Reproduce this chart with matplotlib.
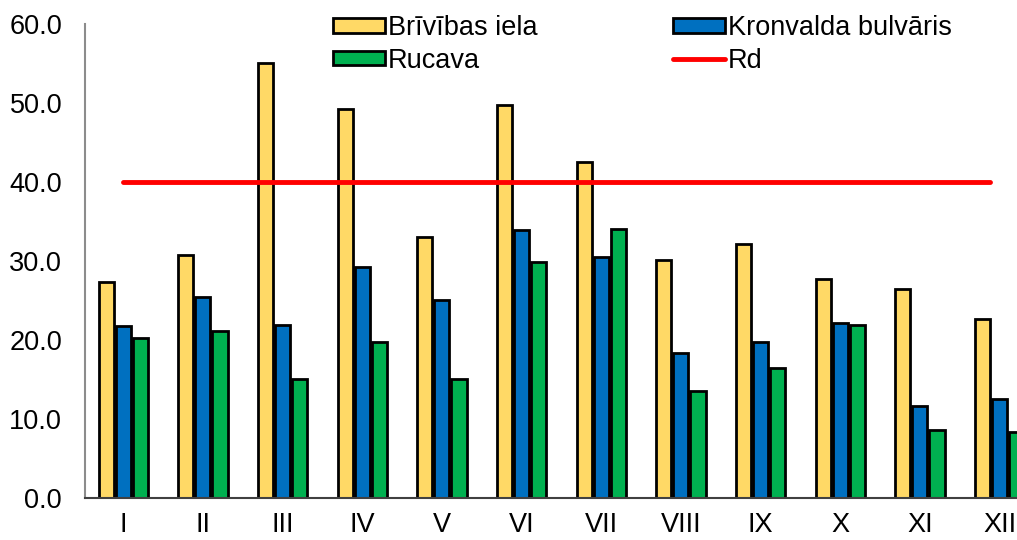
import matplotlib.pyplot as plt
import numpy as np

plt.rcParams['font.family'] = ['Liberation Sans', 'DejaVu Sans']

months = ['I', 'II', 'III', 'IV', 'V', 'VI', 'VII', 'VIII', 'IX', 'X', 'XI', 'XII']
brivibas = [27.4, 30.8, 55.1, 49.3, 33.0, 49.8, 42.5, 30.1, 32.2, 27.7, 26.4, 22.7]
kronvalda = [21.8, 25.5, 21.9, 29.2, 25.1, 33.9, 30.5, 18.4, 19.8, 22.1, 11.7, 12.5]
rucava = [20.2, 21.1, 15.0, 19.8, 15.1, 29.9, 34.0, 13.5, 16.5, 21.9, 8.6, 8.3]
rd = 40.0

fig = plt.figure(figsize=(10.17, 5.4), dpi=100)
ax = fig.add_axes([0.0836, 0.0778, 0.94, 0.8778])

x = np.arange(len(months))
bw = 0.19
off = 0.215
ax.bar(x - off, brivibas, width=bw, color='#FFD966', edgecolor='black', linewidth=2, label='Brīvības iela', zorder=2)
ax.bar(x, kronvalda, width=bw, color='#0070C0', edgecolor='black', linewidth=2, label='Kronvalda bulvāris', zorder=2)
ax.bar(x + off, rucava, width=bw, color='#00B050', edgecolor='black', linewidth=2, label='Rucava', zorder=2)
ax.plot([x[0], x[-1] - 0.12], [rd, rd], color='#FF0000', linewidth=3.5, label='Rd', zorder=3, solid_capstyle='round')

ax.set_xlim(-0.48, 11.52)
ax.set_ylim(0, 60)
ax.set_yticks(np.arange(0, 61, 10))
ax.set_yticklabels([f'{v:.1f}' for v in np.arange(0, 61, 10)], fontsize=19.5)
ax.set_xticks(x)
ax.set_xticklabels(months, fontsize=19.5)
ax.tick_params(length=0, pad=10)
ax.tick_params(axis='y', pad=16.5)
for s in ['top', 'right']:
    ax.spines[s].set_visible(False)
ax.spines['left'].set_color('#8c8c8c')
ax.spines['left'].set_linewidth(1.5)
ax.spines['bottom'].set_color('#404040')
ax.spines['bottom'].set_linewidth(1.5)

h, l = ax.get_legend_handles_labels()
order = [1, 3, 2, 0]
fig.legend([h[i] for i in order], [l[i] for i in order], ncol=2, frameon=False,
           fontsize=19.5, loc='upper left', bbox_to_anchor=(0.327, 0.972),
           borderpad=0, borderaxespad=0,
           handlelength=1.92, handleheight=0.45, handletextpad=0.12,
           columnspacing=5.0, labelspacing=0.24)

plt.savefig('out.png', dpi=100)
